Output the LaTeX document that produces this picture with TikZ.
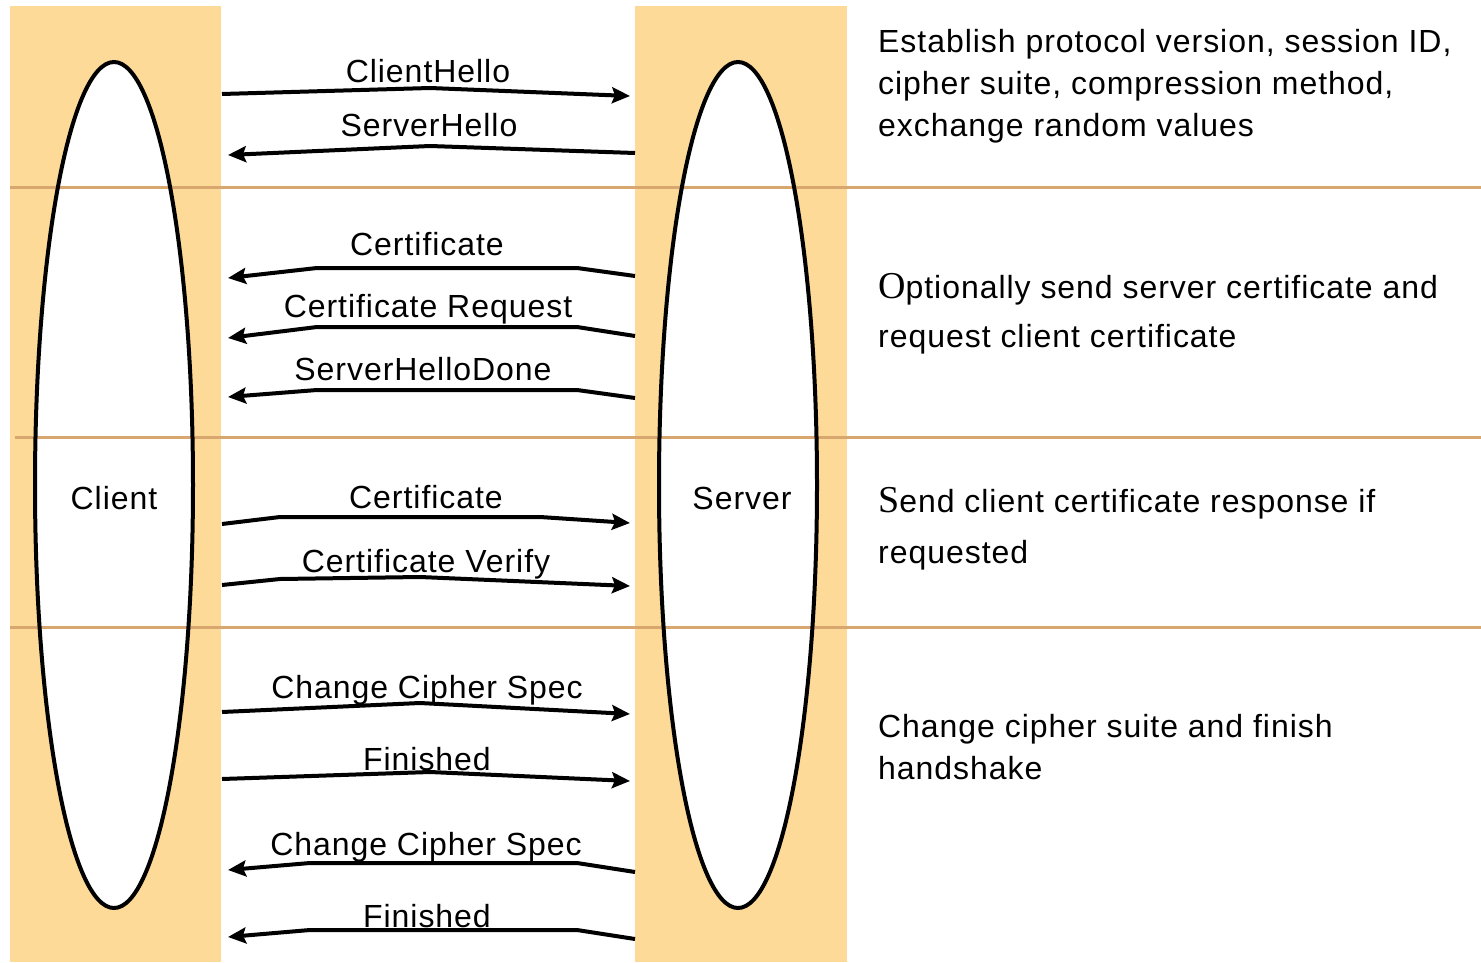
\documentclass[tikz,border=0pt]{standalone}
\usepackage{fontspec}
\setmainfont{Liberation Sans}[LetterSpace=3]
\newfontfamily\serifcap{Liberation Serif}
\usetikzlibrary{arrows.meta,shapes.geometric}
\definecolor{colfill}{RGB}{253,218,152}
\definecolor{sepline}{RGB}{216,167,112}
\begin{document}
\begin{tikzpicture}[x=1pt,y=-1pt,
  msg/.style={line width=4pt, line join=miter, -{Stealth[length=18pt,width=16pt,inset=3pt]}},
  lbl/.style={anchor=base, inner sep=0pt, font=\fontsize{32}{36}\selectfont},
  desc/.style={anchor=base west, inner sep=0pt, font=\fontsize{32}{36}\selectfont},
  sep/.style={draw=sepline, line width=3pt},
  party/.style={ellipse, fill=white, inner sep=0pt, minimum width=158pt, minimum height=846pt},
  outline/.style={line width=4pt}]
\useasboundingbox (0,0) rectangle (1481,963);
% columns
\fill[colfill] (10,6) rectangle (221,962);
\fill[colfill] (635,6) rectangle (847,962);
% party ellipses (fill)
\node[party] (client) at (114,485) {};
\node[party] (server) at (738,485) {};
% separators
\draw[sep] (10,187) -- (1481,187);
\draw[sep] (15,437) -- (1481,437);
\draw[sep] (10,627) -- (1481,627);
% ellipse outlines
\draw[outline] (client.center) ellipse [x radius=79pt, y radius=423pt];
\draw[outline] (server.center) ellipse [x radius=79pt, y radius=423pt];
\node[lbl] (clientlbl) at (114,509) {Client};
\node[lbl] (serverlbl) at (742,509) {Server};
% messages
\draw[msg] (222,94) -- (430,88) -- (630,96);
\node[lbl] (m1) at (428,83) {ClientHello};
\draw[msg] (635,153) -- (430,146) -- (228,155);
\node[lbl] (m2) at (429,137) {ServerHello};
\draw[msg] (635,276) -- (577,268) -- (317,268) -- (228,278);
\node[lbl] (m3) at (427,255) {Certificate};
\draw[msg] (635,336) -- (577,327) -- (317,327) -- (228,338);
\node[lbl] (m4) at (428,317) {Certificate Request};
\draw[msg] (635,398) -- (577,390) -- (317,390) -- (228,397);
\node[lbl] (m5) at (423,380) {ServerHelloDone};
\draw[msg] (222,524) -- (280,517) -- (540,517) -- (630,523);
\node[lbl] (m6) at (426,508) {Certificate};
\draw[msg] (222,585) -- (280,579) -- (420,577) -- (630,586);
\node[lbl] (m7) at (426,572) {Certificate Verify};
\draw[msg] (222,712) -- (420,703) -- (630,714);
\node[lbl] (m8) at (427,698) {Change Cipher Spec};
\draw[msg] (222,779) -- (430,772) -- (630,781);
\node[lbl] (m9) at (427,770) {Finished};
\draw[msg] (635,872) -- (577,863) -- (310,863) -- (228,870);
\node[lbl] (m10) at (426,855) {Change Cipher Spec};
\draw[msg] (635,939) -- (577,930) -- (310,930) -- (228,937);
\node[lbl] (m11) at (427,927) {Finished};
% descriptions
\node[desc] (d1a) at (878,53) {Establish protocol version, session ID,};
\node[desc] (d1b) at (878,95) {cipher suite, compression method,};
\node[desc] (d1c) at (878,137) {exchange random values};
\node[desc] (d2a) at (878,298) {{\serifcap\fontsize{38}{38}\selectfont O}ptionally send server certificate and};
\node[desc] (d2b) at (878,347) {request client certificate};
\node[desc] (d3a) at (878,512) {{\serifcap\fontsize{38}{38}\selectfont S}end client certificate response if};
\node[desc] (d3b) at (878,563) {requested};
\node[desc] (d4a) at (878,737) {Change cipher suite and finish};
\node[desc] (d4b) at (878,779) {handshake};
\end{tikzpicture}
\end{document}
